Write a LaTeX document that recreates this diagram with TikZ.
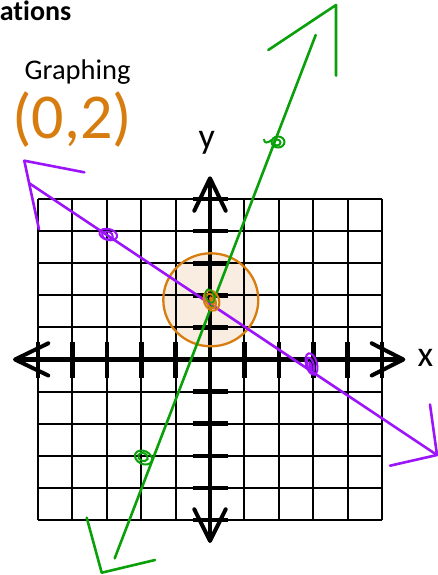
\documentclass[tikz,border=0pt]{standalone}
\usepackage{fontspec}
\setmainfont{Carlito}[Ligatures=NoCommon]
\definecolor{pur}{RGB}{155,20,250}
\definecolor{grn}{RGB}{10,160,10}
\definecolor{org}{RGB}{215,125,15}
\definecolor{orgfill}{RGB}{248,237,224}
\tikzset{
  gridline/.style={black, line width=2pt},
  axisline/.style={black, line width=4.6pt},
  axhead/.style={black, line width=4pt, line cap=round, line join=round},
  tickmark/.style={black, line width=4.6pt},
  pen/.style={line width=2.6pt, line cap=round, line join=round},
  dotpen/.style={line width=2pt},
  lbl/.style={inner sep=0pt, font=\fontsize{36}{40}\selectfont},
}
\begin{document}
\begin{tikzpicture}[x=1pt,y=-1pt]
\useasboundingbox (0,0) rectangle (438,575);
% texts
\node[inner sep=0pt, anchor=base east, font=\bfseries\fontsize{28}{32}\selectfont] (title) at (71.5,21) {ations};
\node[inner sep=0pt, anchor=base west, font=\fontsize{28.5}{32}\selectfont] (graphing) at (24.5,80) {Graphing};
\node[inner sep=0pt, anchor=base west, text=org, font=\fontsize{64}{70}\selectfont] (pt) at (12,139) {(0,2)};
% circle fill
\fill[orgfill] (210.8,299.8) ellipse [x radius=47.5, y radius=46.5];
% grid
\foreach \i in {0,...,10} \draw[gridline] ({38+\i*34.4},199) -- ({38+\i*34.4},520);
\foreach \j in {0,...,10} \draw[gridline] (38,{199+\j*32.1}) -- (382,{199+\j*32.1});
% axes
\draw[axisline] (15,359.5) -- (403,359.5);
\draw[axisline] (210,178.5) -- (210,541);
\draw[axhead] (48.3,343.3) -- (15,359.5) -- (48.3,375.5);
\draw[axhead] (371.7,343.3) -- (403.3,359.5) -- (371.7,375.5);
\draw[axhead] (194.3,210.7) -- (210,178.3) -- (225.7,210.7);
\draw[axhead] (194.3,509.3) -- (210,541) -- (225.7,509.3);
% ticks
\foreach \i in {0,1,2,3,4,6,7,8,9,10} \draw[tickmark] ({38+\i*34.4},342) -- ({38+\i*34.4},378);
\foreach \j in {0,1,2,3,4,6,7,8,9,10} \draw[tickmark] (193.3,{199+\j*32.1}) -- (227.5,{199+\j*32.1});
% axis labels
\node[lbl, anchor=base west] (xl) at (417.5,366.7) {x};
\node[lbl, anchor=base west] (yl) at (198.5,148.7) {y};
% circle outline
\draw[org, line width=2.3pt] (210.8,299.8) ellipse [x radius=47.5, y radius=46.5];
% purple line
\draw[pur, pen] (29.3,183.3) -- (437,455);
\draw[pur, pen] (84.3,172.3) -- (24.3,160.7) -- (39,229.3);
\draw[pur, pen] (430,404.5) -- (437,455) -- (390,465.7);
% green line
\draw[grn, pen] (315.7,35) -- (114.7,558.3);
\draw[grn, pen] (268.3,50) -- (336,5) -- (336,75.7);
\draw[grn, pen] (86.7,517.7) -- (101.7,572.7) -- (155,560);
% purple dots
\draw[pur, dotpen] (108.3,234.5) ellipse [x radius=9, y radius=5.5, rotate=-15];
\draw[pur, dotpen] (107.5,235.5) ellipse [x radius=5.5, y radius=4, rotate=-15];
\draw[pur, dotpen] (311.5,364) ellipse [x radius=5.5, y radius=11, rotate=15];
\draw[pur, dotpen] (310.5,365) ellipse [x radius=3.2, y radius=7.5, rotate=15];
\fill[pur] (310.5,366) ellipse [x radius=2, y radius=5, rotate=15];
% green dots
\draw[grn, dotpen] (278,142) ellipse [x radius=6.5, y radius=5.5];
\draw[grn, dotpen] (277,142.5) ellipse [x radius=3.5, y radius=3];
\draw[grn, dotpen] (264,139) .. controls (264,144) and (268,143) .. (271.5,140);
\draw[grn, dotpen] (143.5,457.5) ellipse [x radius=9, y radius=6.5, rotate=-25];
\draw[grn, dotpen] (143,457) ellipse [x radius=5, y radius=4, rotate=-25];
% orange dot at (0,2)
\draw[org, dotpen] (211.5,300.5) ellipse [x radius=7.5, y radius=10.5, rotate=20];
\draw[org, dotpen] (211,301) ellipse [x radius=4.5, y radius=7.5, rotate=20];
\fill[org] (212,301) ellipse [x radius=2.5, y radius=5, rotate=20];
\draw[grn, line width=1.5pt] (210,296) ellipse [x radius=4, y radius=7, rotate=20];
\end{tikzpicture}
\end{document}
